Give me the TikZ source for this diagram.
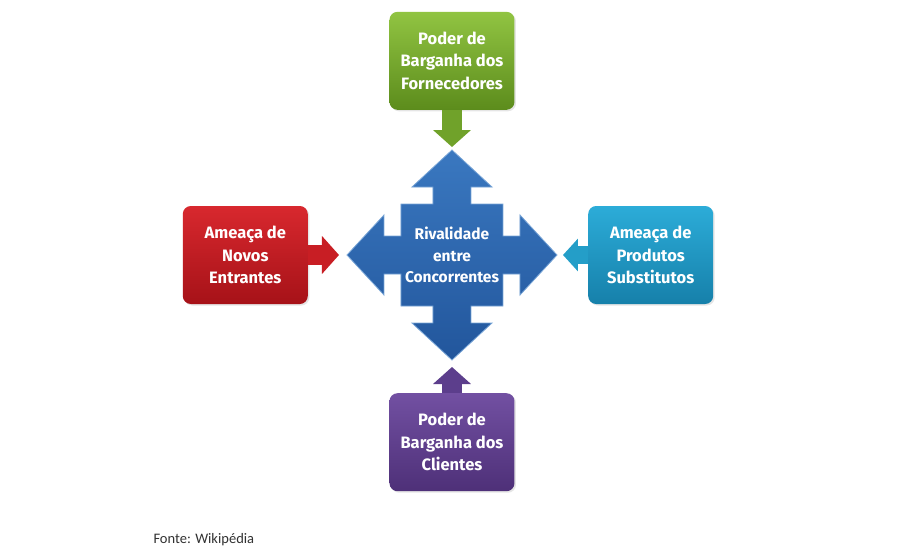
\documentclass[tikz,border=0pt]{standalone}
\usepackage{fontspec}
\setmainfont{Fira Sans}
\newfontfamily\notefont{Carlito}
\usepackage{tikz}
\usetikzlibrary{arrows.meta,positioning,shadows}
\definecolor{bluetop}{RGB}{58,120,192}
\definecolor{bluebot}{RGB}{34,86,156}
\definecolor{blueedge}{RGB}{120,165,215}
\definecolor{greentop}{RGB}{145,196,66}
\definecolor{greenbot}{RGB}{92,140,28}
\definecolor{greenarr}{RGB}{112,162,42}
\definecolor{redtop}{RGB}{216,40,46}
\definecolor{redbot}{RGB}{166,18,24}
\definecolor{redarr}{RGB}{200,30,36}
\definecolor{cyantop}{RGB}{44,172,216}
\definecolor{cyanbot}{RGB}{22,128,170}
\definecolor{cyanarr}{RGB}{36,158,200}
\definecolor{purptop}{RGB}{114,80,162}
\definecolor{purpbot}{RGB}{78,48,120}
\definecolor{purparr}{RGB}{92,62,140}
\definecolor{notegray}{RGB}{50,50,50}

\begin{document}
\begin{tikzpicture}[
  x=1pt,y=1pt,
  force/.style={rounded corners=8pt,minimum width=125pt,minimum height=98pt,align=center,text=white,
    font=\bfseries\fontsize{16.5}{22.5}\selectfont,
    drop shadow={opacity=0.2,shadow xshift=1.5pt,shadow yshift=-1.5pt}},
  hubtext/.style={align=center,text=white,font=\bfseries\fontsize{15.5}{21.5}\selectfont},
  crossfill/.style={top color=bluetop,bottom color=bluebot,draw=blueedge,line width=0.8pt,line join=miter},
  feed/.style={line width=20pt,-{Triangle[width=37pt,length=17pt]}},
  note/.style={anchor=west,text=notegray,font=\notefont\fontsize{14.5}{17}\selectfont}
]
\path[use as bounding box,fill=white] (-452,-303) rectangle (448,255);

% central quad arrow
\coordinate (hub) at (0,0);
\path[crossfill] (0,105) coordinate (ctop) -- (40,68) -- (19,68) -- (19,51) -- (51,51) -- (51,19) -- (68,19) -- (68,40)
  -- (105,0) coordinate (cright) -- (68,-40) -- (68,-19) -- (51,-19) -- (51,-51) -- (19,-51) -- (19,-68) -- (40,-68)
  -- (0,-105) coordinate (cbottom) -- (-40,-68) -- (-19,-68) -- (-19,-51) -- (-51,-51) -- (-51,-19) -- (-68,-19) -- (-68,-40)
  -- (-105,0) coordinate (cleft) -- (-68,40) -- (-68,19) -- (-51,19) -- (-51,51) -- (-19,51) -- (-19,68) -- (-40,68) -- cycle;
\node[hubtext] (rival) at (hub) {Rivalidade\\entre\\Concorrentes};

% the four forces
\node[force,top color=greentop,bottom color=greenbot,above=145pt of hub] (sup) {Poder de\\Barganha dos\\Fornecedores};
\node[force,top color=redtop,bottom color=redbot,left=144pt of hub] (newc) {Ameaça de\\Novos\\Entrantes};
\node[force,top color=cyantop,bottom color=cyanbot,right=136pt of hub] (subs) {Ameaça de\\Produtos\\Substitutos};
\node[force,top color=purptop,bottom color=purpbot,below=138pt of hub] (buyer) {Poder de\\Barganha dos\\Clientes};

\draw[feed,draw=greenarr,shorten >=3pt] (sup.south) -- (ctop);
\draw[feed,draw=redarr,shorten >=8pt] (newc.east) -- (cleft);
\draw[feed,draw=cyanarr,shorten >=6pt,line width=18pt,-{Triangle[width=32pt,length=15pt]}] (subs.west) -- (cright);
\draw[feed,draw=purparr,shorten >=7pt] (buyer.north) -- (cbottom);

\node[note] (src) at (-302,-285) {Fonte: Wikipédia};
\end{tikzpicture}
\end{document}
